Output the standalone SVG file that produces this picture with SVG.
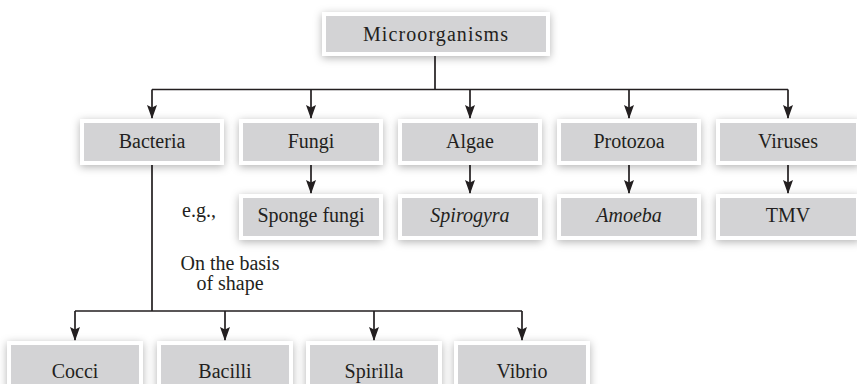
<svg xmlns="http://www.w3.org/2000/svg" width="857" height="384" viewBox="0 0 857 384">
<defs>
<filter id="sh" x="-20%" y="-40%" width="140%" height="180%">
<feDropShadow dx="0" dy="2" stdDeviation="4.5" flood-color="#000" flood-opacity="0.3"/>
</filter>
<marker id="ah" viewBox="0 0 14 10" refX="13" refY="5" markerWidth="14" markerHeight="10" markerUnits="userSpaceOnUse" orient="auto">
<path d="M0,0 L14,5 L0,10 L2.5,5 z" fill="#231f20"/>
</marker>
<style>
.box{fill:#d3d3d5;stroke:#ffffff;stroke-width:4;filter:url(#sh)}
.t{font-family:"Liberation Serif","Times New Roman",serif;font-size:20px;fill:#231f20;text-anchor:middle}
.i{font-style:italic}
.c{fill:none;stroke:#231f20;stroke-width:1.7}
</style>
</defs>
<rect width="857" height="384" fill="#ffffff"/>
<g id="connectors">
<path class="c" d="M435,55 V89.5 M152,89.5 H788"/>
<path class="c" d="M152,89.5 V118" marker-end="url(#ah)"/>
<path class="c" d="M311,89.5 V118" marker-end="url(#ah)"/>
<path class="c" d="M470,89.5 V118" marker-end="url(#ah)"/>
<path class="c" d="M629,89.5 V118" marker-end="url(#ah)"/>
<path class="c" d="M788,89.5 V118" marker-end="url(#ah)"/>
<path class="c" d="M311,164 V193" marker-end="url(#ah)"/>
<path class="c" d="M470,164 V193" marker-end="url(#ah)"/>
<path class="c" d="M629,164 V193" marker-end="url(#ah)"/>
<path class="c" d="M788,164 V193" marker-end="url(#ah)"/>
<path class="c" d="M152,164 V311 M75,311 H522"/>
<path class="c" d="M75,311 V340" marker-end="url(#ah)"/>
<path class="c" d="M225,311 V340" marker-end="url(#ah)"/>
<path class="c" d="M374,311 V340" marker-end="url(#ah)"/>
<path class="c" d="M522,311 V340" marker-end="url(#ah)"/>
</g>
<g id="microorganisms"><rect class="box" x="324" y="14" width="224" height="40"/><text class="t" x="436" y="41" font-size="21" letter-spacing="1.1">Microorganisms</text></g>
<g id="bacteria"><rect class="box" x="82" y="121" width="140" height="42"/><text class="t" x="152" y="148">Bacteria</text></g>
<g id="fungi"><rect class="box" x="241" y="121" width="140" height="42"/><text class="t" x="311" y="148">Fungi</text></g>
<g id="algae"><rect class="box" x="400" y="121" width="140" height="42"/><text class="t" x="470" y="148">Algae</text></g>
<g id="protozoa"><rect class="box" x="559" y="121" width="140" height="42"/><text class="t" x="629" y="148">Protozoa</text></g>
<g id="viruses"><rect class="box" x="718" y="121" width="140" height="42"/><text class="t" x="788" y="148">Viruses</text></g>
<g id="sponge-fungi"><rect class="box" x="241" y="196" width="140" height="42"/><text class="t" x="311" y="222">Sponge fungi</text></g>
<g id="spirogyra"><rect class="box" x="400" y="196" width="140" height="42"/><text class="t i" x="470" y="222">Spirogyra</text></g>
<g id="amoeba"><rect class="box" x="559" y="196" width="140" height="42"/><text class="t i" x="629" y="222">Amoeba</text></g>
<g id="tmv"><rect class="box" x="718" y="196" width="140" height="42"/><text class="t" x="788" y="222">TMV</text></g>
<g id="labels">
<text class="t" x="199" y="217">e.g.,</text>
<text class="t" x="230" y="270">On the basis</text>
<text class="t" x="230" y="290">of shape</text>
</g>
<g id="cocci"><rect class="box" x="9" y="343" width="132" height="50"/><text class="t" x="75" y="378">Cocci</text></g>
<g id="bacilli"><rect class="box" x="159" y="343" width="132" height="50"/><text class="t" x="225" y="378">Bacilli</text></g>
<g id="spirilla"><rect class="box" x="308" y="343" width="132" height="50"/><text class="t" x="374" y="378">Spirilla</text></g>
<g id="vibrio"><rect class="box" x="456" y="343" width="132" height="50"/><text class="t" x="522" y="378">Vibrio</text></g>
</svg>
